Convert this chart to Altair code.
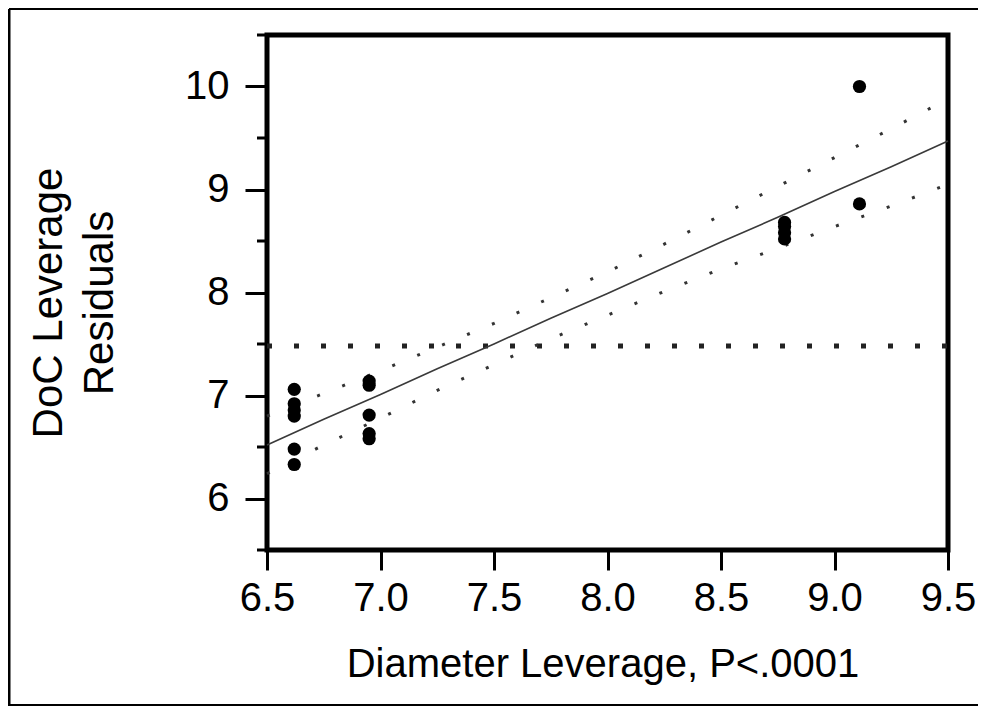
import altair as alt
import pandas as pd

# ---- data ----
pt_x = [6.62, 6.62, 6.62, 6.62, 6.62, 6.62,
        6.95, 6.95, 6.95, 6.95, 6.95,
        8.78, 8.78, 8.78, 8.78,
        9.11, 9.11]
pt_y = [7.06, 6.92, 6.86, 6.80, 6.48, 6.33,
        7.14, 7.10, 6.81, 6.63, 6.58,
        8.68, 8.64, 8.58, 8.52,
        10.00, 8.86]

fit_x = [6.5, 6.75, 7.0, 7.25, 7.5, 7.75, 8.0, 8.25, 8.5, 8.75, 9.0, 9.25, 9.5]
fit_y = [6.52, 6.77, 7.01, 7.26, 7.50, 7.75, 7.99, 8.24, 8.49, 8.73, 8.98, 9.22, 9.47]
upper_y = [6.80, 7.02, 7.24, 7.47, 7.70, 7.95, 8.20, 8.47, 8.75, 9.03, 9.31, 9.59, 9.88]
lower_y = [6.24, 6.52, 6.78, 7.05, 7.30, 7.55, 7.78, 8.01, 8.23, 8.43, 8.64, 8.84, 9.05]

mean_x = [6.5, 9.5]
mean_y = [7.48, 7.48]

x_ticks = [6.5, 7.0, 7.5, 8.0, 8.5, 9.0, 9.5]
y_ticks = [6, 7, 8, 9, 10]
y_minor = [5.5, 6.5, 7.5, 8.5, 9.5, 10.5]

x_title = "Diameter Leverage, P<.0001"
y_title = ["DoC Leverage", "Residuals"]

FONT = "Liberation Sans"

xs = alt.Scale(domain=[6.5, 9.5], nice=False, zero=False)
ys = alt.Scale(domain=[5.5, 10.5], nice=False, zero=False)

x_axis = alt.Axis(values=x_ticks, format=".1f", title=None, labelFont=FONT,
                  labelFontSize=40, labelColor="black", tickSize=20, tickWidth=3,
                  tickColor="black", domain=False, grid=False, labelPadding=8,
                  labelFlush=False, labelOverlap=False)
y_axis = alt.Axis(values=y_ticks, format="d", title=None, labelFont=FONT,
                  labelFontSize=40, labelColor="black", tickSize=22, tickWidth=3,
                  tickColor="black", domain=False, grid=False, labelPadding=16,
                  labelFlush=False, labelOverlap=False)


def X(field):
    return alt.X(f"{field}:Q", scale=xs, axis=x_axis)


def Y(field):
    return alt.Y(f"{field}:Q", scale=ys, axis=y_axis)


pts = pd.DataFrame({"x": pt_x, "y": pt_y})
fit = pd.DataFrame({"x": fit_x, "fit": fit_y, "up": upper_y, "lo": lower_y})
mean = pd.DataFrame({"x": mean_x, "y": mean_y})
minor = pd.DataFrame({"v": y_minor})
one = pd.DataFrame({"a": [0]})

points = alt.Chart(pts).mark_circle(size=175, color="black", opacity=1).encode(
    x=X("x"), y=Y("y"))

fit_line = alt.Chart(fit).mark_line(color="#3a3a3a", strokeWidth=1.6).encode(
    x=X("x"), y=Y("fit"))
up_line = alt.Chart(fit).mark_line(color="#333333", strokeWidth=3,
                                   strokeDash=[3, 24]).encode(x=X("x"), y=Y("up"))
lo_line = alt.Chart(fit).mark_line(color="#333333", strokeWidth=3,
                                   strokeDash=[3, 24]).encode(x=X("x"), y=Y("lo"))
mean_line = alt.Chart(mean).mark_line(color="#222222", strokeWidth=5,
                                      strokeDash=[5, 22]).encode(x=X("x"), y=Y("y"))

minor_ticks = alt.Chart(minor).mark_rule(color="black", strokeWidth=3, clip=False).encode(
    y=Y("v"), x=alt.value(-10), x2=alt.value(0))

xt = alt.Chart(one).mark_text(text=x_title, font=FONT, fontSize=40, color="black",
                              align="center", baseline="alphabetic").encode(
    x=alt.value(336), y=alt.value(642))

yt = alt.Chart(one).mark_text(text=y_title, font=FONT, fontSize=42, color="black",
                              align="center", baseline="alphabetic", angle=270,
                              lineHeight=51).encode(
    x=alt.value(-205), y=alt.value(268))

# outer page frame: left, top and bottom edges only
frame_left = alt.Chart(one).mark_rule(color="black", strokeWidth=3, clip=False).encode(
    x=alt.value(-258), y=alt.value(-26), y2=alt.value(671))
frame_top = alt.Chart(one).mark_rule(color="black", strokeWidth=2, clip=False).encode(
    x=alt.value(-258), x2=alt.value(711), y=alt.value(-26))
frame_bottom = alt.Chart(one).mark_rule(color="black", strokeWidth=2, clip=False).encode(
    x=alt.value(-258), x2=alt.value(711), y=alt.value(670))

chart = alt.layer(frame_left, frame_top, frame_bottom, mean_line, up_line, lo_line,
                  fit_line, points, minor_ticks, xt, yt).properties(
    width=681, height=515,
    autosize=alt.AutoSizeParams(type="none"),
    padding={"left": 259, "top": 27, "right": 31, "bottom": 157},
    background="white",
).configure_view(stroke="black", strokeWidth=5).configure_axis(grid=False, domain=False)

chart.save("out.html", embed_options={"renderer": "svg", "actions": False})
